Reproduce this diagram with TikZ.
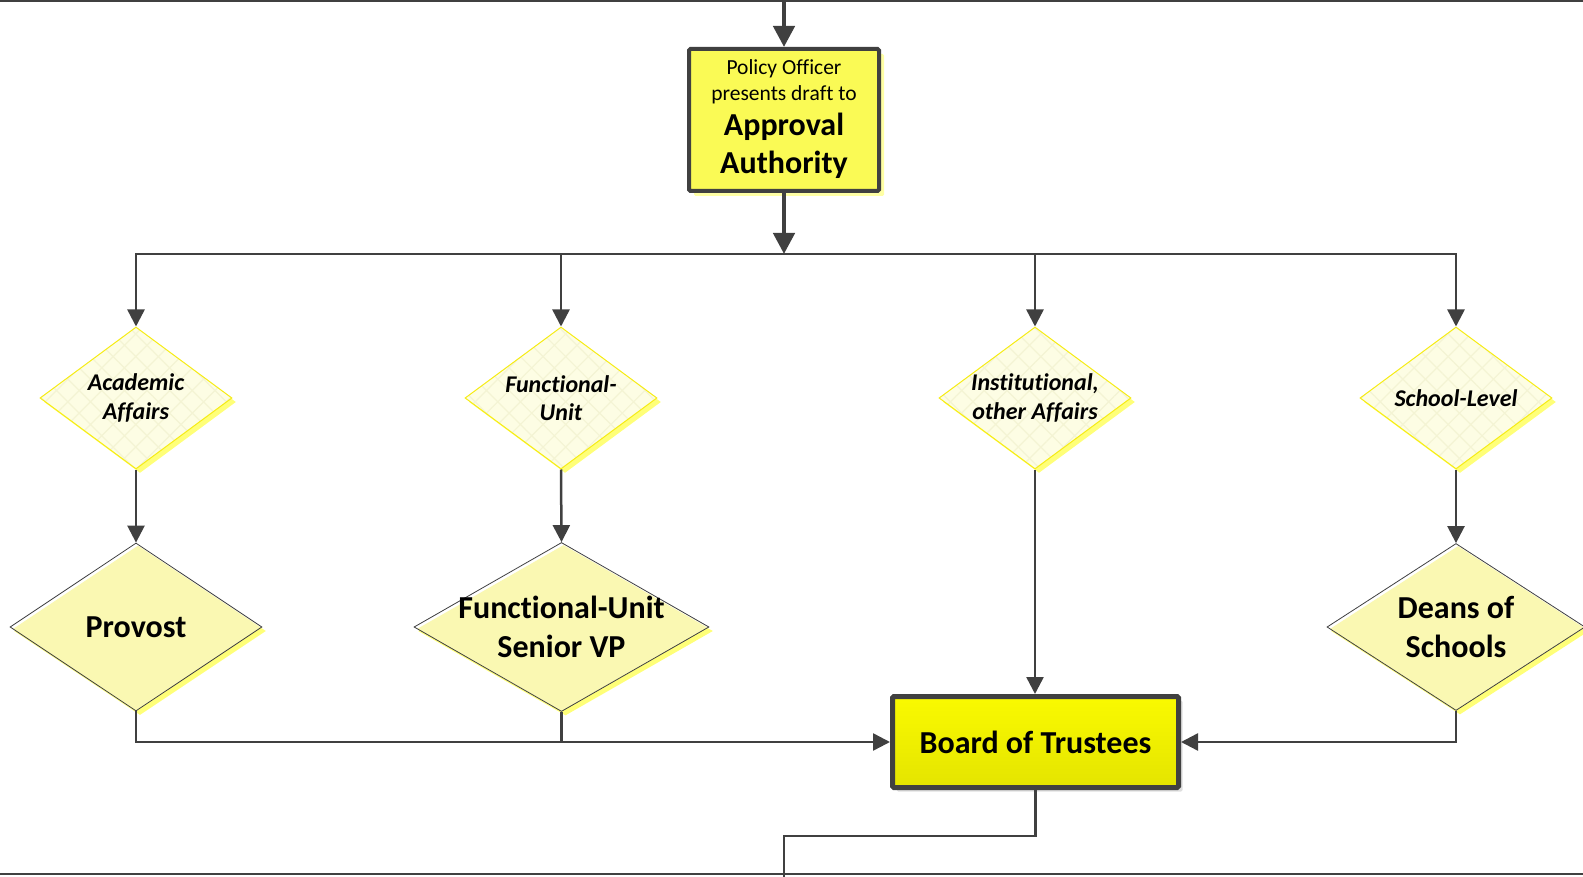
\documentclass[tikz,border=0pt]{standalone}
\usepackage{fontspec}
\setmainfont{Carlito}[Ligatures=NoCommon]
\usetikzlibrary{shapes.geometric,arrows.meta,shadows,patterns.meta,calc}

\definecolor{linegray}{RGB}{64,64,64}
\definecolor{boxyellow}{RGB}{250,250,85}
\definecolor{boxshadow}{RGB}{255,255,165}
\definecolor{smallfill}{RGB}{253,253,228}
\definecolor{hatchcol}{RGB}{244,244,212}
\definecolor{smalledge}{RGB}{246,236,20}
\definecolor{bigfill}{RGB}{250,248,178}
\definecolor{diashadow}{RGB}{255,255,120}
\definecolor{bottop}{RGB}{250,250,0}
\definecolor{botbot}{RGB}{228,228,0}
\definecolor{botshadow}{RGB}{222,222,222}

\tikzset{
  conn/.style={draw=linegray, line width=2.5pt},
  thickconn/.style={draw=linegray, line width=4.5pt, -{Triangle[length=21pt,width=21pt]}},
  arrowed/.style={-{Triangle[length=17pt,width=17pt]}},
  frameline/.style={draw=linegray, line width=2pt},
  topbox/.style={draw=linegray, line width=4pt, fill=boxyellow, rounded corners=1.5pt,
    minimum width=190pt, minimum height=142pt, inner sep=0pt,
    general shadow={fill=boxshadow, shadow xshift=5pt, shadow yshift=-5pt}},
  botbox/.style={draw=linegray, line width=5pt, top color=bottop, bottom color=botbot,
    rounded corners=1.5pt, minimum width=286pt, minimum height=91pt, inner sep=0pt,
    general shadow={fill=botshadow, shadow xshift=4pt, shadow yshift=-4pt},
    font=\fontsize{32}{38}\selectfont\bfseries},
  smalldia/.style={shape=diamond, draw=smalledge, line width=1pt, fill=smallfill,
    minimum width=192pt, minimum height=142pt, inner sep=0pt,
    general shadow={fill=diashadow, shadow xshift=4pt, shadow yshift=-4pt},
    path picture={\fill[pattern={Hatch[angle=45,distance=16pt,line width=1.2pt]}, pattern color=hatchcol]
      (path picture bounding box.south west) rectangle (path picture bounding box.north east);}},
  bigdia/.style={shape=diamond, draw=linegray, line width=0.8pt, fill=white,
    inner sep=0pt,
    general shadow={fill=diashadow, shadow xshift=4pt, shadow yshift=-4pt},
    path picture={\fill[bigfill]
      ($(path picture bounding box.north)+(2pt,-2.5pt)$) --
      ($(path picture bounding box.east)+(2pt,-2.5pt)$) --
      ($(path picture bounding box.south)+(2pt,-2.5pt)$) --
      ($(path picture bounding box.west)+(2pt,-2.5pt)$) -- cycle;}},
  smalltext/.style={font=\fontsize{24}{28.5}\selectfont\bfseries\itshape, align=center, inner sep=0pt},
  bigtext/.style={font=\fontsize{32}{39}\selectfont\bfseries, align=center, inner sep=0pt},
}

\begin{document}
\begin{tikzpicture}[x=1pt,y=-1pt]
\useasboundingbox (0,0) rectangle (1583,877);

% page frame lines
\coordinate (frameTL) at (0,1);
\coordinate (frameTR) at (1583,1);
\coordinate (frameBL) at (0,874);
\coordinate (frameBR) at (1583,874);
\draw[frameline] (frameTL) -- (frameTR);
\draw[frameline] (frameBL) -- (frameBR);

% approval authority box
\node[topbox] (approval) at (784,120) {};
\node[font=\fontsize{21.5}{26}\selectfont, align=center, inner sep=0pt] (approvalsub) at (784,82)
  {Policy Officer\\presents draft to};
\node[font=\fontsize{32}{38}\selectfont\bfseries, align=center, inner sep=0pt] (approvaltitle) at (784,146)
  {Approval\\Authority};

% routing diamonds
\node[smalldia] (aa) at (136,398) {};
\node[smalldia] (fu) at (561,398) {};
\node[smalldia] (ia) at (1035,398) {};
\node[smalldia] (sl) at (1456,398) {};
\node[smalltext] (aatext) at (aa) {Academic\\Affairs};
\node[smalltext] (futext) at (fu) {Functional-\\Unit};
\node[smalltext] (iatext) at (ia) {Institutional,\\other Affairs};
\node[smalltext] (sltext) at (sl) {School-Level};

% approvers
\node[bigdia, minimum width=252pt, minimum height=168pt] (prov) at (136,627) {};
\node[bigdia, minimum width=295pt, minimum height=169pt] (fvp) at (561.5,627) {};
\node[bigdia, minimum width=258pt, minimum height=167pt] (deans) at (1456,627) {};
\node[bigtext] (provtext) at (prov) {Provost};
\node[bigtext] (fvptext) at (fvp) {Functional-Unit\\Senior VP};
\node[bigtext] (deanstext) at (deans) {Deans of\\Schools};

% board of trustees
\node[botbox] (bot) at (1035.5,742) {Board of Trustees};

% incoming and outgoing of the approval box
\coordinate (topin) at (784,0);
\coordinate (busmid) at (784,254);
\draw[thickconn] (topin) -- (approval.north);
\draw[thickconn] (approval.south) -- (busmid);

% distribution bus
\draw[conn,arrowed] (busmid) -| (aa.north);
\draw[conn,arrowed] (busmid) -| (fu.north);
\draw[conn,arrowed] (busmid) -| (ia.north);
\draw[conn,arrowed] (busmid) -| (sl.north);

% routing to approvers
\draw[conn,arrowed] (aa.south) -- (prov.north);
\draw[conn,arrowed] (fu.south) -- (fvp.north);
\draw[conn,arrowed] (sl.south) -- (deans.north);
\draw[conn,arrowed] (ia.south) -- (ia.south |- bot.north);

% approvers to the board
\draw[conn,arrowed] (prov.south) |- (bot.west);
\draw[conn] (fvp.south) -- (fvp.south |- bot.west);
\draw[conn,arrowed] (deans.south) |- (bot.east);

% board outlet
\coordinate (outlet) at (784,877);
\draw[conn] (bot.south) -- ++(0,46) -| (outlet);
\end{tikzpicture}
\end{document}
